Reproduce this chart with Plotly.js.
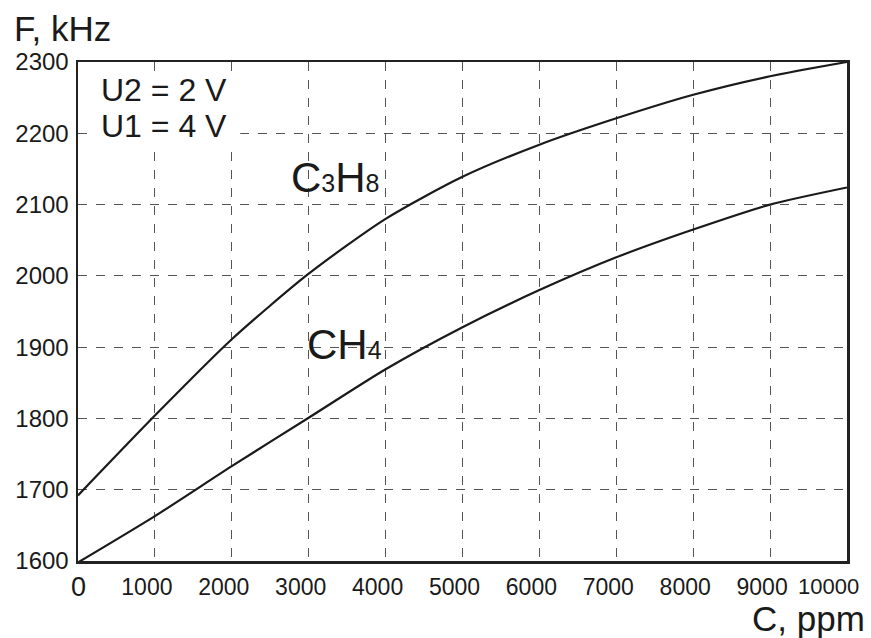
<!DOCTYPE html>
<html><head><meta charset="utf-8">
<script src="https://cdn.plot.ly/plotly-3.0.1.min.js"></script>
<style>body{margin:0;background:#fff}#c{width:871px;height:638px}</style>
</head><body><div id="c"></div>
<script>
const concentration = [0, 1000, 2000, 3000, 4000, 5000, 6000, 7000, 8000, 9000, 10000];
const freqC3H8 = [1692, 1804, 1911, 2003, 2080, 2139, 2184, 2221, 2254, 2280, 2300];
const freqCH4 = [1598, 1663, 1733, 1801, 1869, 1928, 1980, 2026, 2065, 2100, 2124];
const xTicks = [1000, 2000, 3000, 4000, 5000, 6000, 7000, 8000, 9000];
const xEdgeTicks = [0, 10000];
const yTicks = [1600, 1700, 1800, 1900, 2000, 2100, 2200, 2300];

const font = 'Liberation Sans, Arial, sans-serif';
const traces = [
  {x: concentration, y: freqC3H8, mode: 'lines', line: {color: '#1a1a1a', width: 2.2, shape: 'spline', smoothing: 0.7}, hoverinfo: 'none'},
  {x: concentration, y: freqCH4, mode: 'lines', line: {color: '#1a1a1a', width: 2.2, shape: 'spline', smoothing: 0.7}, hoverinfo: 'none'}
];
const layout = {
  width: 871, height: 638,
  margin: {l: 78, r: 24, t: 62, b: 77},
  paper_bgcolor: '#fff', plot_bgcolor: '#fff',
  showlegend: false,
  font: {family: font, color: '#1a1a1a'},
  xaxis: {
    range: [0, 10000], tickvals: xTicks, ticktext: xTicks.map(String),
    showgrid: true, gridcolor: '#555', griddash: 'dash', gridwidth: 1,
    showline: true, linecolor: '#222', linewidth: 2.5, mirror: true,
    ticks: '', tickfont: {size: 23, family: font, color: '#1a1a1a'}, zeroline: false,
    ticklabelshift: -8, ticklabelstandoff: 4
  },
  yaxis: {
    range: [1600, 2300], tickvals: yTicks,
    showgrid: true, gridcolor: '#555', griddash: 'dash', gridwidth: 1,
    showline: true, linecolor: '#222', linewidth: 2.5, mirror: true,
    ticks: '', tickfont: {size: 24, family: font, color: '#1a1a1a'}, zeroline: false,
    ticklabelstandoff: 2
  },
  shapes: [
    {type: 'rect', xref: 'paper', yref: 'paper', x0: 0.018, x1: 0.211, y0: 0.824, y1: 0.98, fillcolor: '#fff', line: {width: 0}, layer: 'above'}
  ],
  annotations: [
    {xref: 'paper', yref: 'paper', x: -0.0858, y: 1.068, xanchor: 'left', yanchor: 'middle', text: 'F, kHz', showarrow: false, font: {size: 35, family: font}},
    {xref: 'paper', yref: 'paper', x: 1.026, y: -0.116, xanchor: 'right', yanchor: 'middle', text: 'C, ppm', showarrow: false, font: {size: 35, family: font}},
    {xref: 'x', yref: 'paper', x: xEdgeTicks[0], y: 0, yshift: -26, xanchor: 'center', yanchor: 'middle', text: String(xEdgeTicks[0]), showarrow: false, font: {size: 27, family: font}},
    {xref: 'x', yref: 'paper', x: xEdgeTicks[1], y: 0, xshift: -19, yshift: -25, xanchor: 'center', yanchor: 'middle', text: String(xEdgeTicks[1]), showarrow: false, font: {size: 22, family: font}},
    {xref: 'paper', yref: 'paper', x: 0.027, y: 0.944, xanchor: 'left', yanchor: 'middle', text: 'U2 = 2 V', showarrow: false, font: {size: 32, family: font}},
    {xref: 'paper', yref: 'paper', x: 0.027, y: 0.872, xanchor: 'left', yanchor: 'middle', text: 'U1 = 4 V', showarrow: false, font: {size: 32, family: font}},
    {xref: 'x', yref: 'y', x: 2740, y: 2138, xanchor: 'left', yanchor: 'middle', text: 'C<span style="font-size:25px">3</span>H<span style="font-size:25px">8</span>', showarrow: false, font: {size: 42, family: font}},
    {xref: 'x', yref: 'y', x: 2950, y: 1904, xanchor: 'left', yanchor: 'middle', text: 'CH<span style="font-size:25px">4</span>', showarrow: false, font: {size: 42, family: font}}
  ]
};
Plotly.newPlot('c', traces, layout, {staticPlot: true});
</script></body></html>
